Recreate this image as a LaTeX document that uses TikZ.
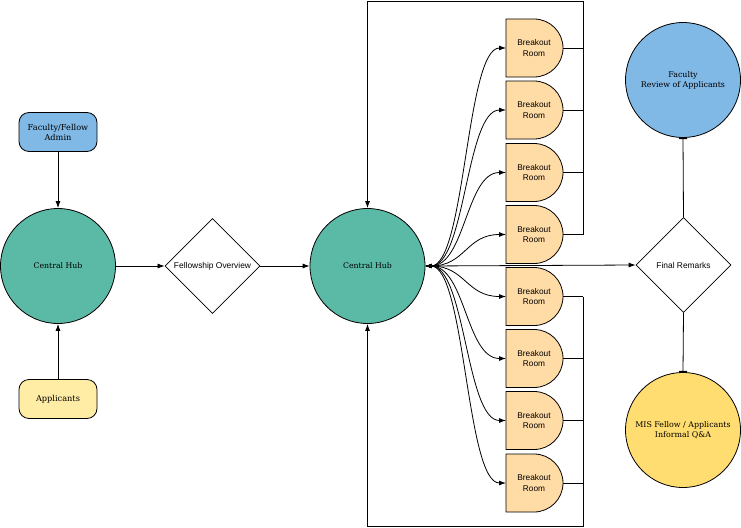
\documentclass[tikz,border=0pt]{standalone}
\usepackage{fontspec}
\setmainfont{DejaVu Serif}
\newfontfamily\lsans{Liberation Sans}
\usetikzlibrary{arrows.meta,shapes.geometric}
\definecolor{hubcol}{HTML}{5BBAA6}
\definecolor{bluecol}{HTML}{80B8E6}
\definecolor{palecol}{HTML}{FFEDA6}
\definecolor{roomcol}{HTML}{FFDBA6}
\definecolor{golden}{HTML}{FFDD70}
\tikzset{
  x=1pt,y=-1pt,
  every path/.style={line width=0.8pt},
  hub/.style={circle,draw,fill=hubcol,minimum size=115pt,inner sep=0pt,font=\fontsize{7.8}{9}\selectfont,align=center},
  bigcirc/.style={circle,draw,minimum size=115pt,inner sep=0pt,font=\fontsize{7.9}{9.8}\selectfont,align=center},
  pill/.style={rounded corners=10pt,draw,minimum width=78pt,minimum height=39pt,inner sep=0pt,font=\fontsize{8.2}{10}\selectfont,align=center},
  dia/.style={diamond,draw,fill=white,minimum width=95pt,minimum height=95pt,inner sep=0pt,aspect=1,font=\lsans\fontsize{8.4}{10}\selectfont},
  roomlabel/.style={font=\lsans\fontsize{8.3}{10.2}\selectfont,align=center,inner sep=0pt},
  arr/.style={-{Latex[length=7pt,width=5pt]}},
  barend/.style={-{Bar[width=8pt,line width=1.2pt]}},
}
\newcommand{\roomshape}[2]{%
  \filldraw[fill=roomcol] (506,#1-29) -- (534,#1-29) arc[start angle=-90,end angle=90,radius=29] -- (506,#1+29) -- cycle;
  \coordinate (#2w) at (506,#1);
  \coordinate (#2e) at (563,#1);
  \node[roomlabel] (#2) at (534,#1) {Breakout\\Room};
}
\begin{document}
\begin{tikzpicture}
\useasboundingbox (0,0) rectangle (741,527);
% left
\node[hub] (hubA) at (58,266) {Central Hub};
\node[pill,fill=bluecol] (admin) at (58,132) {Faculty/Fellow\\Admin};
\node[pill,fill=palecol] (appl) at (58,399) {Applicants};
\draw[arr] (admin) -- (hubA);
\draw[arr] (appl) -- (hubA);
\node[dia] (over) at (212.5,266) {Fellowship Overview};
\draw[arr] (hubA) -- (over);
\node[hub] (hubB) at (367.5,266) {Central Hub};
\draw[arr] (over) -- (hubB);
% rooms
\roomshape{48}{r1}
\roomshape{110}{r2}
\roomshape{172.5}{r3}
\roomshape{234.5}{r4}
\roomshape{296.5}{r5}
\roomshape{358.5}{r6}
\roomshape{420.5}{r7}
\roomshape{483}{r8}
\foreach \r in {r1,r2,r3,r4,r5,r6,r7,r8}{
  \draw[{Latex[length=6pt,width=4.5pt]}-{Latex[length=7pt,width=5pt]}] (hubB.east) .. controls +(40,0) and +(-40,0) .. (\r w);
}
% feedback lines
\coordinate (tl) at (367.5,1);
\coordinate (tr) at (583,1);
\coordinate (br) at (583,526);
\coordinate (bl) at (367.5,526);
\foreach \r in {r1,r2,r3,r4}{ \draw (\r e) -- (\r e -| tr); }
\foreach \r in {r5,r6,r7,r8}{ \draw (\r e) -- (\r e -| br); }
\draw[arr] (r4e -| tr) -- (tr) -- (tl) -- (hubB.north);
\draw[arr] (r5e -| br) -- (br) -- (bl) -- (hubB.south);
% right
\node[dia] (final) at (683.5,265) {Final Remarks};
\draw[arr] (hubB.east) -- (final.west);
\node[bigcirc,fill=bluecol] (review) at (683,80) {Faculty\\Review of Applicants};
\node[bigcirc,fill=golden] (mis) at (683,430) {MIS Fellow / Applicants\\Informal Q\&A};
\draw[barend] (final.north) -- (review.south);
\draw[barend] (final.south) -- (mis.north);
\end{tikzpicture}
\end{document}
